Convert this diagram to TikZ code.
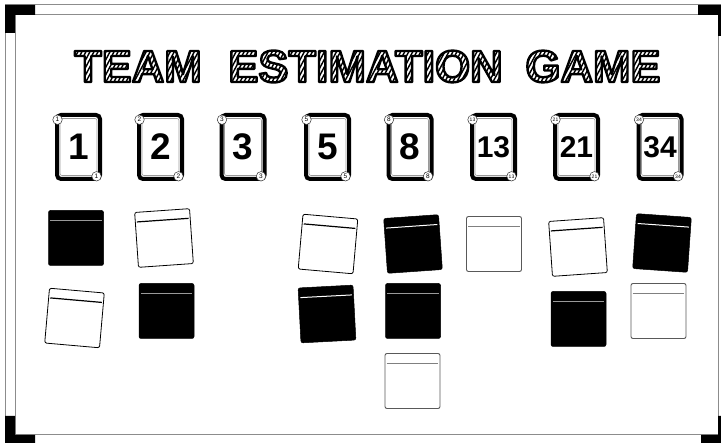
\documentclass[tikz,border=0pt]{standalone}
\usepackage{fontspec}
\setmainfont{Liberation Sans}
\newfontfamily\titlefont{Liberation Sans}
\usetikzlibrary{calc}
\newcount\hk
\def\hatchlines{}
\hk=-60
\loop
 \edef\hatchlines{\hatchlines\space\the\hk\space -14 m \the\numexpr\hk+30\relax\space 42 l}%
 \advance\hk by 4
\ifnum\hk<320 \repeat
\newcommand\hatchword[1]{%
 \setbox0=\hbox{\titlefont\bfseries\fontsize{45}{45}\selectfont #1}%
 \hbox{\special{x:gsave}%
  \special{pdf:literal direct 5 Tr 2.4 w 1 j}%
  \copy0\kern-\wd0
  \special{pdf:literal 1.4 w 0 J\hatchlines\space S}%
  \kern\wd0
  \special{x:grestore}}}
\tikzset{
  cardbox/.style={draw=black, line width=4pt, rounded corners=4pt, minimum width=43pt, minimum height=64pt, inner sep=0pt, fill=white},
  cardinner/.style={draw=black!40, line width=0.6pt, rounded corners=2pt, minimum width=37pt, minimum height=57pt, inner sep=0pt},
  cardnum/.style={inner sep=0pt, font=\bfseries\fontsize{37}{37}\selectfont},
  cardnumtwo/.style={inner sep=0pt, font=\bfseries\fontsize{30}{30}\selectfont},
  badge/.style={circle, draw=black!80, line width=0.5pt, fill=white, minimum size=9.5pt, inner sep=0pt, font=\fontsize{6.5}{6.5}\selectfont},
  badgetwo/.style={badge, font=\fontsize{5}{5}\selectfont},
  notebase/.style={minimum size=55pt, inner sep=0pt, rounded corners=2pt},
  notew/.style={notebase, draw=black, line width=0.8pt, fill=white},
  noteg/.style={notebase, draw=black!65, line width=0.9pt, fill=white},
  noteb/.style={notebase, draw=black, fill=black, line width=0.5pt},
  linew/.style={draw=black, line width=1.2pt},
  lineg/.style={draw=black!50, line width=1pt},
  lineb/.style={draw=black!40, line width=1pt},
  linebw/.style={draw=white, line width=1pt},
  titleword/.style={inner sep=0pt, anchor=base}
}
\newcommand\card[4]{%
  \node[cardbox] (#1) at (#2,147) {};
  \node[cardinner] (#1in) at (#1.center) {};
  \node[#4] (#1num) at (#1.center) {#3};
}
\newcommand\badges[3]{%
  \node[#3] (#1tl) at ($(#1.north west)+(2.5,6.7)$) {#2};
  \node[#3] (#1br) at ($(#1.south east)+(-5.5,-4.7)$) {#2};
}
\newcommand\stickynote[6]{%
  \begin{scope}[shift={(#2,#3)}, rotate=#4, transform shape]
    \node[#5] (#1) at (0,0) {};
    \draw[#6] ($(#1.north west)+(2,10)$) -- ($(#1.north east)+(-2,10)$);
  \end{scope}
}
\begin{document}
\begin{tikzpicture}[x=1pt, y=-1pt]
  \useasboundingbox (0,0) rectangle (721,443);
  \clip (0,0) rectangle (721,443);
  \fill[white] (0,0) rectangle (721,443);
  % whiteboard frame
  \draw[black!45, line width=1pt] (5,5) rectangle (728,446);
  \draw[black!45, line width=1pt] (15,15) rectangle (718,435);
  \fill[black] (5,5) -- (35,5) -- (35,15) -- (15,15) -- (15,33) -- (5,33) -- cycle;
  \fill[black] (698,5) -- (728,5) -- (728,36) -- (718,36) -- (718,15) -- (698,15) -- cycle;
  \fill[black] (5,446) -- (5,416) -- (15,416) -- (15,435) -- (35,435) -- (35,446) -- cycle;
  \fill[black] (701,446) -- (701,435) -- (718,435) -- (718,416) -- (728,416) -- (728,446) -- cycle;
  % title
  \node[titleword] (t1) at (138,82) {\hatchword{TEAM}};
  \node[titleword] (t2) at (365.5,82) {\hatchword{ESTIMATION}};
  \node[titleword] (t3) at (593,82) {\hatchword{GAME}};
  % cards
  \card{c1}{78.5}{1}{cardnum}
  \card{c2}{160.5}{2}{cardnum}
  \card{c3}{243}{3}{cardnum}
  \card{c5}{327.5}{5}{cardnum}
  \card{c8}{410}{8}{cardnum}
  \card{c13}{493.5}{13}{cardnumtwo}
  \card{c21}{576.5}{21}{cardnumtwo}
  \card{c34}{660}{34}{cardnumtwo}
  \badges{c1}{1}{badge}
  \badges{c2}{2}{badge}
  \badges{c3}{3}{badge}
  \badges{c5}{5}{badge}
  \badges{c8}{8}{badge}
  \badges{c13}{13}{badgetwo}
  \badges{c21}{21}{badgetwo}
  \badges{c34}{34}{badgetwo}
  % sticky notes
  \stickynote{nA}{76}{238}{0}{noteb}{lineb}
  \stickynote{nB}{164}{238}{4}{notew}{linew}
  \stickynote{nC}{74.5}{318}{-5}{notew}{linew}
  \stickynote{nD}{166.5}{311}{0}{noteb}{lineb}
  \stickynote{nE}{328}{244}{-5}{notew}{linew}
  \stickynote{nF}{413}{244}{4}{noteb}{linebw}
  \stickynote{nG}{327}{314}{3}{noteb}{linebw}
  \stickynote{nH}{413}{311}{0}{noteb}{lineb}
  \stickynote{nI}{412.5}{381}{0}{noteg}{lineg}
  \stickynote{nJ}{494}{244}{0}{noteg}{lineg}
  \stickynote{nK}{578}{247}{4}{notew}{linew}
  \stickynote{nL}{662}{243}{-4}{noteb}{linebw}
  \stickynote{nM}{578.5}{319}{0}{noteb}{lineb}
  \stickynote{nN}{658.5}{311}{0}{noteg}{lineg}
\end{tikzpicture}
\end{document}
